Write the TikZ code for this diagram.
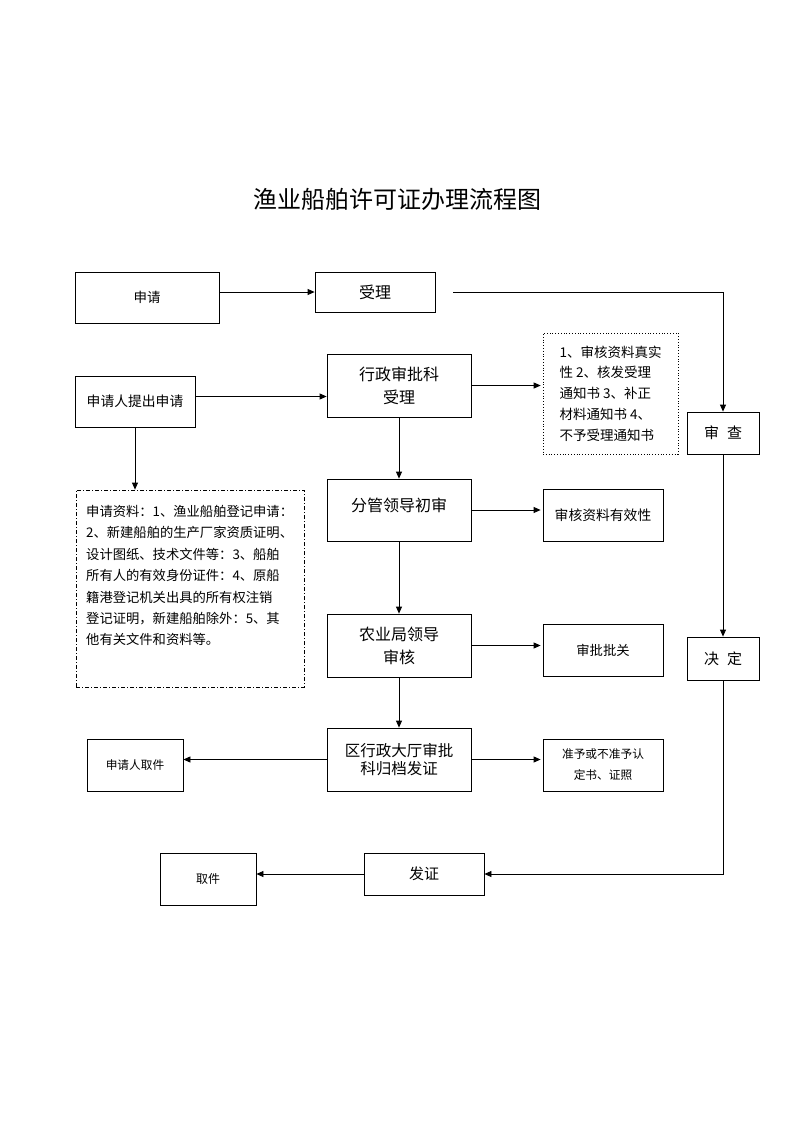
\documentclass[tikz,border=0pt]{standalone}
\usepackage{fontspec}
\setmainfont{Noto Sans CJK SC}
\usetikzlibrary{arrows.meta}
\newcommand{\fs}[2]{\fontsize{#1pt}{#2pt}\selectfont}
\tikzset{
  box/.style={draw, line width=0.8pt, inner sep=0pt, align=center},
  arr/.style={line width=0.8pt, -{Triangle[length=7pt,width=6pt]}},
  gap/.style={shorten >=2pt}
}

\begin{document}
\begin{tikzpicture}[x=1pt,y=-1pt]
\useasboundingbox (0,0) rectangle (793,1122);
%
\node[font=\fs{24}{28}] (title) at (397,199) {渔业船舶许可证办理流程图};
%
\node[box, minimum width=144pt, minimum height=51pt, font=\fs{13.5}{16}] (shenqing) at (147,297.5) {申请};
\node[box, minimum width=120pt, minimum height=40pt, font=\fs{16}{20}] (shouli) at (375,292) {受理};
\node[box, minimum width=120pt, minimum height=51pt, font=\fs{13.8}{16}] (tiqian) at (135,401.5) {申请人提出申请};
\node[box, minimum width=144pt, minimum height=63pt, font=\fs{16}{23}] (xingzheng) at (399,385.5) {行政审批科\\受理};
\node[box, dotted, line width=0.6pt, minimum width=135pt, minimum height=121pt, align=left, font=\fs{13.5}{20.7}] (yaoqiu) at (610.5,393.5)
  {1、审核资料真实\\性\ 2、核发受理\\通知书\ 3、补正\\材料通知书\ 4、\\不予受理通知书};
\node[box, minimum width=72pt, minimum height=42pt, font=\fs{15}{18}] (shencha) at (723,433) {审\hspace{8pt}查};
\node[box, minimum width=72pt, minimum height=43pt, font=\fs{15}{18}] (jueding) at (723,658.5) {决\hspace{8pt}定};
%
\node[box, dash pattern=on 4pt off 2pt on 1pt off 2pt, minimum width=228pt, minimum height=197pt] (ziliao) at (190,588.5) {};
\node[anchor=north west, inner sep=0pt, align=left, font=\fs{13.3}{21.4}] (ziliaotext) at (86,505)
  {申请资料：1、渔业船舶登记申请：\\2、新建船舶的生产厂家资质证明、\\设计图纸、技术文件等：3、船舶\\所有人的有效身份证件：4、原船\\籍港登记机关出具的所有权注销\\登记证明，新建船舶除外：5、其\\他有关文件和资料等。};
%
\node[box, minimum width=144pt, minimum height=62pt, label={[yshift=5pt, font=\fs{16}{20}]center:分管领导初审}] (fenguan) at (399,510) {};
\node[box, minimum width=120pt, minimum height=52pt, font=\fs{13.8}{16}] (youxiao) at (603,515) {审核资料有效性};
\node[box, minimum width=144pt, minimum height=63pt, font=\fs{16}{23}] (nongye) at (399,645.5) {农业局领导\\审核};
\node[box, minimum width=120pt, minimum height=52pt, font=\fs{13.3}{16}] (shenpi) at (603,650) {审批批关};
\node[box, minimum width=144pt, minimum height=63pt, font=\fs{15.5}{18.5}] (quxz) at (399,759.5) {区行政大厅审批\\科归档发证};
\node[box, minimum width=96pt, minimum height=52pt, font=\fs{11.7}{14}] (renqujian) at (135,765) {申请人取件};
\node[box, minimum width=120pt, minimum height=52pt, font=\fs{11.7}{21}] (zhunyu) at (603,765) {准予或不准予认\\定书、证照};
%
\node[box, minimum width=120pt, minimum height=42pt, font=\fs{15}{18}] (fazheng) at (424,874) {发证};
\node[box, minimum width=96pt, minimum height=52pt, font=\fs{12}{14}] (qujian) at (208,879) {取件};
%
\coordinate (shouliout) at (453,292);
\draw[arr] (shenqing.east |- shouli.west) -- (shouli.west);
\draw[arr] (shouliout) -- (shouliout -| shencha.north) -- (shencha.north);
\draw[arr] ([yshift=5pt]tiqian.east) -- ([yshift=5pt]tiqian.east -| xingzheng.west);
\draw[arr, gap] (xingzheng.east) -- (xingzheng.east -| yaoqiu.west);
\draw[arr] (tiqian.south) -- (tiqian.south |- ziliao.north);
\draw[arr] (shencha.south) -- (jueding.north);
\draw[arr] (jueding.south) |- (fazheng.east);
\draw[arr] (fazheng.west) -- (fazheng.west -| qujian.east);
%
\draw[arr] (xingzheng.south) -- (fenguan.north);
\draw[arr] (fenguan.south) -- (nongye.north);
\draw[arr] (nongye.south) -- (quxz.north);
\draw[arr, gap] (fenguan.east) -- (fenguan.east -| youxiao.west);
\draw[arr, gap] (nongye.east) -- (nongye.east -| shenpi.west);
\draw[arr, gap] (quxz.east) -- (quxz.east -| zhunyu.west);
\draw[arr] (quxz.west) -- (quxz.west -| renqujian.east);
\end{tikzpicture}
\end{document}
